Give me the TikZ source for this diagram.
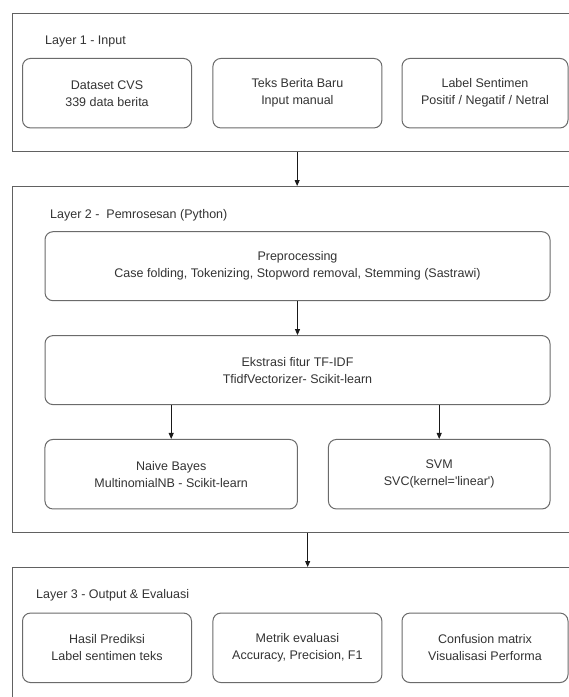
\documentclass[tikz,border=0pt]{standalone}
\usepackage{fontspec}
\newfontfamily\diafont{Liberation Sans}
\usetikzlibrary{arrows.meta}
\begin{document}
\begin{tikzpicture}[x=1pt,y=-1pt,
  layer/.style={draw=black!62, line width=1.3pt, anchor=north west, inner sep=0pt},
  box/.style={draw=black!58, line width=1pt, rounded corners=8pt, align=center,
    font=\diafont\fontsize{12.5}{17}\selectfont, text=black!80, inner sep=0pt},
  lbl/.style={anchor=west, font=\diafont\fontsize{12.5}{15}\selectfont, text=black!80, inner sep=0pt},
  arr/.style={-{Triangle[length=6pt,width=5pt]}, line width=0.8pt, black!90}]
\useasboundingbox (0,0) rectangle (569,697);
\clip (0,0) rectangle (569,697);
\fill[white] (0,0) rectangle (569,697);

% layers
\node[layer, minimum width=569pt, minimum height=138pt] (L1) at (12,13) {};
\node[layer, minimum width=590pt, minimum height=345.5pt] (L2) at (12,186) {};
\node[layer, minimum width=590pt, minimum height=200pt] (L3) at (12,567) {};

\node[lbl] (t1) at (45,41.7) {Layer 1 - Input};
\node[lbl] (t2) at (50,215) {Layer 2 -\ \ Pemrosesan (Python)};
\node[lbl] (t3) at (36,595) {Layer 3 - Output \& Evaluasi};

% layer 1 boxes
\node[box, minimum width=169pt, minimum height=69.5pt] (a1) at (107,93.2) {Dataset CVS\\339 data berita};
\node[box, minimum width=169pt, minimum height=69.5pt] (a2) at (297.4,93.2) {Teks Berita Baru\\Input manual};
\node[box, minimum width=166pt, minimum height=69.5pt] (a3) at (485,93.2) {Label Sentimen\\Positif / Negatif / Netral};

% layer 2 boxes
\node[box, minimum width=505pt, minimum height=69pt] (pre) at (297.5,266.2) {Preprocessing\\Case folding, Tokenizing, Stopword removal, Stemming (Sastrawi)};
\node[box, minimum width=505pt, minimum height=69pt] (tf) at (297.5,370.1) {Ekstrasi fitur TF-IDF\\TfidfVectorizer- Scikit-learn};
\node[box, minimum width=252.5pt, minimum height=69.5pt] (nb) at (171.2,474.2) {Naive Bayes\\MultinomialNB - Scikit-learn};
\node[box, minimum width=221.6pt, minimum height=69.5pt] (svm) at (439.2,474.2) {SVM\\SVC(kernel='linear')};

% layer 3 boxes
\node[box, minimum width=169pt, minimum height=69.5pt] (c1) at (107,647.8) {Hasil Prediksi\\Label sentimen teks};
\node[box, minimum width=169pt, minimum height=69.5pt] (c2) at (297.4,647.8) {Metrik evaluasi\\Accuracy, Precision, F1};
\node[box, minimum width=166pt, minimum height=69.5pt] (c3) at (485,647.8) {Confusion matrix\\Visualisasi Performa};

% arrows
\draw[arr] (L1.south) -- (L1.south |- L2.north);
\draw[arr] (pre.south) -- (tf.north);
\draw[arr] (tf.south -| nb.north) -- (nb.north);
\draw[arr] (tf.south -| svm.north) -- (svm.north);
\draw[arr] (L2.south) -- (L2.south |- L3.north);
\end{tikzpicture}
\end{document}
